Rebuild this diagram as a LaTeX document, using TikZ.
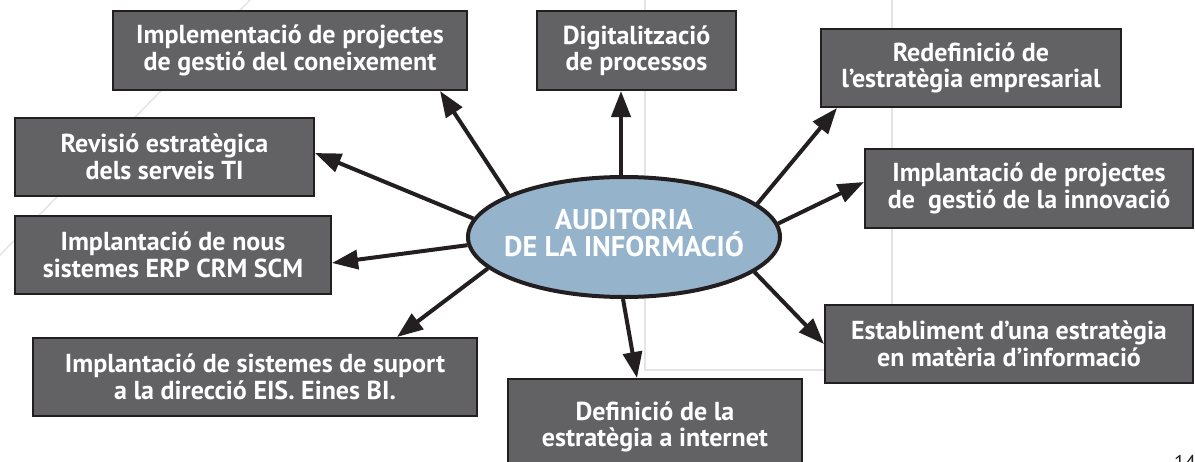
\documentclass[tikz,border=0pt]{standalone}
\usepackage{fontspec}
\setmainfont{PT Sans}
\usetikzlibrary{arrows.meta,shapes.geometric,calc}
\definecolor{boxgray}{RGB}{98,98,101}
\definecolor{ellblue}{RGB}{149,180,204}
\definecolor{ink}{RGB}{35,31,32}
\definecolor{bgline}{RGB}{228,228,228}
\begin{document}
\begin{tikzpicture}[x=1pt,y=-1pt,
  box/.style={draw=ink, line width=2.4pt, fill=boxgray, text=white,
    font=\bfseries\fontsize{26}{26.5}\selectfont, align=center, inner sep=0pt},
  arr/.style={draw=ink, line width=4pt, -{Triangle[length=26pt,width=19pt]}},
  ellbox/.style={ellipse, draw=ink, line width=4pt, fill=ellblue, inner sep=0pt},
  elltext/.style={text=white, font=\bfseries\fontsize{28.5}{26.5}\selectfont, align=center, inner sep=0pt}
]
\useasboundingbox (0,0) rectangle (1195,461);
\fill[white] (0,0) rectangle (1195,461);
% faint background lines
\draw[bgline, line width=1.5pt] (252,-2) -- (-2,257);
\draw[bgline, line width=2pt] (645,-2) -- (645,370) -- (830,370);
\draw[bgline, line width=2pt] (892,-2) -- (892,310);
% boxes
\node[box, minimum width=353.6pt, minimum height=78.6pt] (A) at (290,50.5) {Implementació de projectes\\de gestió del coneixement};
\node[box, minimum width=198.6pt, minimum height=78.6pt] (B) at (636.5,50.5) {Digitalització\\de processos};
\node[box, minimum width=299.6pt, minimum height=77.6pt] (C) at (971,68) {Redefinició de\\l’estratègia empresarial};
\node[box, minimum width=298.6pt, minimum height=77.6pt] (D) at (164.5,157) {Revisió estratègica\\dels serveis TI};
\node[box, minimum width=327.6pt, minimum height=78.6pt] (E) at (1029,188.5) {Implantació de projectes\\de~ gestió de la innovació};
\node[box, minimum width=315.6pt, minimum height=77.6pt] (F) at (173,255) {Implantació de nous\\sistemes ERP CRM SCM};
\node[box, minimum width=443.6pt, minimum height=77.6pt] (G) at (255,377) {Implantació de sistemes de suport\\a la direcció EIS. Eines BI.};
\node[box, minimum width=293.6pt, minimum height=89.6pt, text depth=0pt] (H) at (655,424) {Definició de la\\estratègia a internet};
\node[box, minimum width=367.6pt, minimum height=77.6pt] (I) at (1009,344) {Establiment d’una estratègia\\en matèria d’informació};
% central ellipse
\node[ellbox, minimum width=312pt, minimum height=120pt] (ell) at (624,237) {};
\node[elltext] (ellt) at ([yshift=4pt]ell.center) {AUDITORIA\\DE LA INFORMACIÓ};
% connectors
\draw[arr] (ell.160.2) -- ([xshift=150pt]A.south);
\draw[arr] ([xshift=-3pt]ell.north) -- ([xshift=-15.5pt]B.south);
\draw[arr] (ell.14.2) -- ([xshift=-134pt]C.south);
\draw[arr] (ell.173.6) -- ([yshift=4pt]D.east);
\draw[arr] (ell.5.6) -- ([yshift=6.5pt]E.west);
\draw[arr] (ell.183.6) -- ([yshift=-8pt]F.east);
\draw[arr] (ell.193.4) -- ([xshift=142pt]G.north);
\draw[arr] ([xshift=-1pt]ell.south) -- ([xshift=-18pt]H.north);
\draw[arr] (ell.345) -- (I.west);
% page number
\node[anchor=north west, font=\fontsize{20}{20}\selectfont, inner sep=0pt, text=ink] (pg) at (1174,455) {14};
\end{tikzpicture}
\end{document}
